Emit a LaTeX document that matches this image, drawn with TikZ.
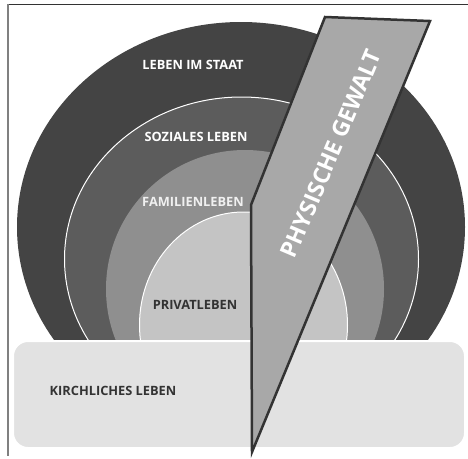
\documentclass[tikz,border=0pt]{standalone}
\usepackage{fontspec}
\setmainfont{Open Sans}
\definecolor{staat}{HTML}{444444}
\definecolor{sozial}{HTML}{5C5C5C}
\definecolor{familie}{HTML}{8F8F8F}
\definecolor{privat}{HTML}{C4C4C4}
\definecolor{kirche}{HTML}{E2E2E2}
\definecolor{gewalt}{HTML}{A8A8A8}
\definecolor{kante}{HTML}{333333}
\begin{document}
\begin{tikzpicture}[x=1pt, y=-1pt,
    label/.style={font=\bfseries\fontsize{12.8}{12.8}\selectfont,inner sep=0pt},
    hell/.style={label,text=white},
    dunkel/.style={label,text=kante}]
  \useasboundingbox (0,0) rectangle (468,458);
  % rahmen
  \draw [kante,line width=1pt] (8,4) -- (468,4);
  \draw [gray,line width=1.5pt] (8,4) -- (8,456);
  % lebensbereiche
  \begin{scope}
    \clip (0,0) rectangle (468,339);
    \fill [staat] (241,227) ellipse [x radius=224pt, y radius=205pt];
    \filldraw [sozial,draw=white,line width=1pt] (241.5,259) ellipse [x radius=177pt, y radius=162pt];
    \fill [familie] (245,289) ellipse [x radius=139pt, y radius=139pt];
    \filldraw [privat,draw=white,line width=1pt] (243.5,325) ellipse [x radius=104pt, y radius=113pt];
  \end{scope}
  \filldraw [kirche,draw=white,line width=2pt,rounded corners=15pt] (13,341) rectangle (465,448);
  % gewalt
  \filldraw [gewalt,draw=kante,line width=2.5pt,line join=miter]
    (325,17) -- (430,21) -- (252,452) -- (251,205) -- cycle;
  % texte
  \node [hell] (staatl) at (193,65) {LEBEN IM STAAT};
  \node [hell] (soziall) at (196,137) {SOZIALES LEBEN};
  \node [hell,text=white!94!black] (familiel) at (193,202) {FAMILIENLEBEN};
  \node [dunkel] (privatl) at (195,305) {PRIVATLEBEN};
  \node [dunkel] (kirchel) at (113,391) {KIRCHLICHES LEBEN};
  \node [hell,font=\bfseries\fontsize{23}{23}\selectfont,rotate=67] (gewaltl) at (331,154) {PHYSISCHE GEWALT};
\end{tikzpicture}
\end{document}
